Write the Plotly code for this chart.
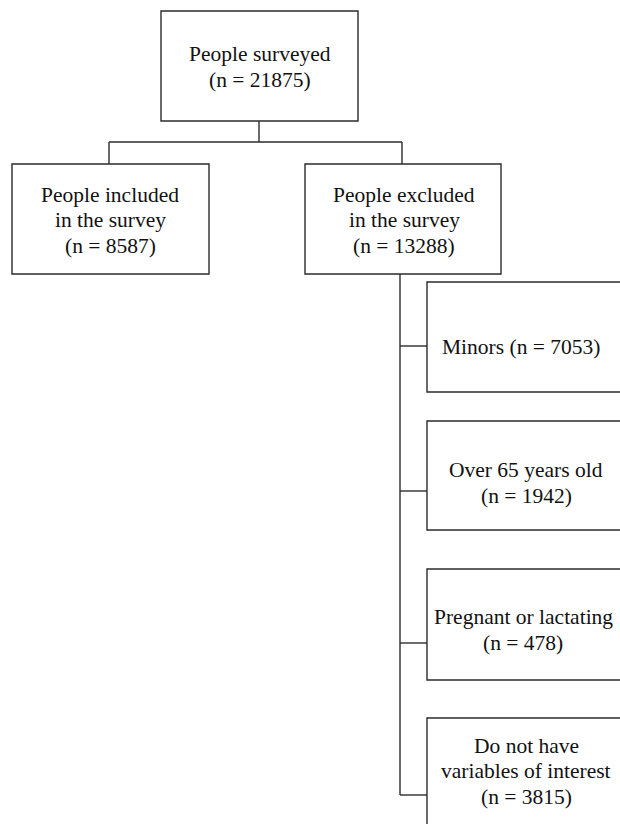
import plotly.graph_objects as go

# ---- data ----
node_titles = [
    ["People surveyed"],
    ["People included", "in the survey"],
    ["People excluded", "in the survey"],
    ["Minors"],
    ["Over 65 years old"],
    ["Pregnant or lactating"],
    ["Do not have", "variables of interest"],
]
node_counts = [21875, 8587, 13288, 7053, 1942, 478, 3815]
inline_count = [False, False, False, True, False, False, False]

# ---- layout (pixel space, y downward) ----
W, H = 620, 824
box_x0 = [161, 12, 305, 427, 427, 427, 427]
box_x1 = [358, 209, 501, 626, 626, 626, 626]
box_y0 = [11, 164, 164, 282, 421, 569, 718]
box_y1 = [121, 274, 274, 392, 530, 680, 830]
text_cx = [260, 110, 404, 521, 526, 523, 526]
text_cy = [67, 220, 220, 347, 483, 630, 771]
line_gap = 25.5
branch_y = [346, 491, 643, 795]
trunk_x = 400
split_y = 142
top_stem_x = 259
left_stem_x = 109
right_stem_x = 402

LINE = dict(color="#2b2b2b", width=1.4)
FONT = dict(family="Liberation Serif, Times New Roman, serif", size=21.5, color="#111111")

fig = go.Figure()
fig.add_trace(go.Scatter(x=[0, W], y=[0, H], mode="markers",
                         marker=dict(opacity=0), hoverinfo="skip", showlegend=False))

shapes = []
for i in range(len(node_titles)):
    shapes.append(dict(type="rect", xref="x", yref="y",
                       x0=box_x0[i], x1=box_x1[i], y0=box_y0[i], y1=box_y1[i],
                       line=LINE, fillcolor="rgba(0,0,0,0)"))

def seg(xa, ya, xb, yb):
    shapes.append(dict(type="line", xref="x", yref="y", x0=xa, y0=ya, x1=xb, y1=yb, line=LINE))

# top split
seg(top_stem_x, box_y1[0], top_stem_x, split_y)
seg(left_stem_x, split_y, right_stem_x, split_y)
seg(left_stem_x, split_y, left_stem_x, box_y0[1])
seg(right_stem_x, split_y, right_stem_x, box_y0[2])
# exclusion trunk
seg(trunk_x, box_y1[2], trunk_x, branch_y[-1])
for k, by in enumerate(branch_y):
    seg(trunk_x, by, box_x0[3 + k], by)

annotations = []
for i, lines in enumerate(node_titles):
    if inline_count[i]:
        rows = [f"{lines[0]} (n = {node_counts[i]})"]
    else:
        rows = list(lines) + [f"(n = {node_counts[i]})"]
    n = len(rows)
    for j, r in enumerate(rows):
        yy = text_cy[i] + (j - (n - 1) / 2) * line_gap
        annotations.append(dict(x=text_cx[i], y=yy, xref="x", yref="y", text=r,
                                showarrow=False, font=FONT, xanchor="center", yanchor="middle"))

fig.update_layout(
    width=W, height=H, margin=dict(l=0, r=0, t=0, b=0),
    paper_bgcolor="white", plot_bgcolor="white",
    xaxis=dict(range=[0, W], visible=False, fixedrange=True),
    yaxis=dict(range=[H, 0], visible=False, fixedrange=True),
    shapes=shapes, annotations=annotations, showlegend=False,
)
fig.write_html("out.html", config={"displayModeBar": False},
               post_script="document.body.style.margin='0px';document.body.style.overflow='hidden';")
